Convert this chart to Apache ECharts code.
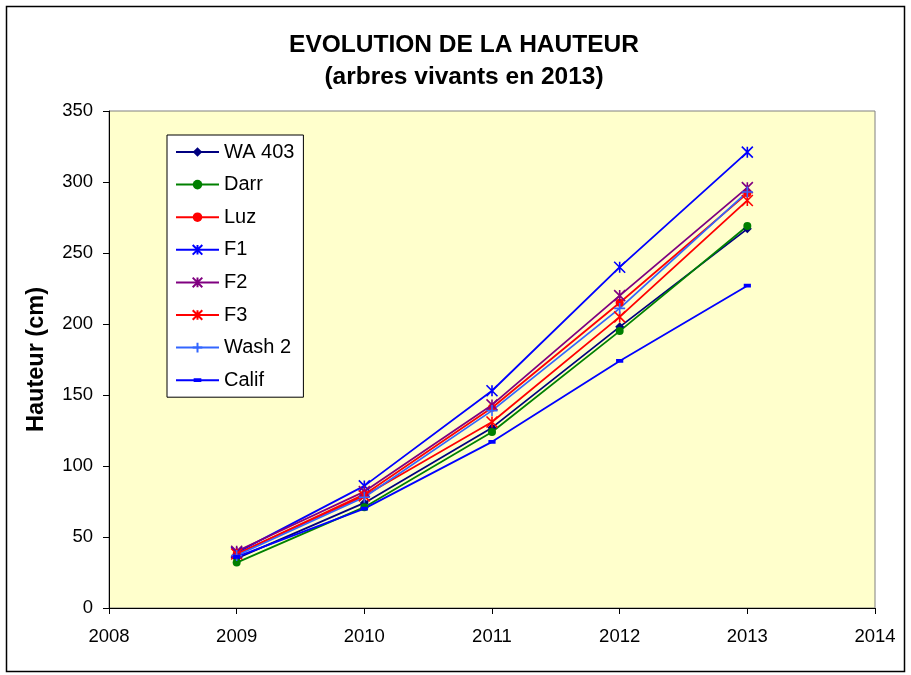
<!DOCTYPE html>
<html><head><meta charset="utf-8">
<script src="https://cdn.jsdelivr.net/npm/echarts@6/dist/echarts.min.js"></script>
<style>html,body{margin:0;padding:0;background:#fff}#c{width:911px;height:675px}</style>
</head><body><div id="c"></div>
<script>
const years = [2009, 2010, 2011, 2012, 2013];
const seriesNames = ['WA 403', 'Darr', 'Luz', 'F1', 'F2', 'F3', 'Wash 2', 'Calif'];
const wa403 = [35, 74, 127, 198, 267];
const darr  = [32, 71, 124, 195, 269];
const luz   = [38, 80, 141, 215, 292];
const f1    = [39, 86, 153, 240, 321];
const f2    = [40, 82, 143, 220, 296];
const f3    = [38, 79, 131, 205, 287];
const wash2 = [37, 78, 139, 211, 293];
const calif = [36, 70, 117, 174, 227];
const xTicks = [2008, 2009, 2010, 2011, 2012, 2013, 2014];
const yTicks = [0, 50, 100, 150, 200, 250, 300, 350];

const star = 'path://M0,0 L10,10 M10,0 L0,10 M5,0 L5,10';
const plus = 'path://M5,0 L5,10 M0,5 L10,5';
const dash = 'path://M0,0 L0,0 Z M10,10 L10,10 Z M1,3 L9,3 L9,7 L1,7 Z';
const styles = [
  {color:'#000080', symbol:'diamond', size:9, stroke:false},
  {color:'#008000', symbol:'circle', size:8, stroke:false},
  {color:'#FF0000', symbol:'circle', size:8, stroke:false},
  {color:'#0000FF', symbol:star, size:11, stroke:true},
  {color:'#800080', symbol:star, size:11, stroke:true},
  {color:'#FF0000', symbol:star, size:11, stroke:true},
  {color:'#3366FF', symbol:plus, size:11, stroke:true},
  {color:'#0000FF', symbol:dash, size:9, stroke:false}
];
const data = [wa403, darr, luz, f1, f2, f3, wash2, calif];

const series = seriesNames.map((n, i) => ({
  name: n, type: 'line',
  data: years.map((y, j) => [y, data[i][j]]),
  symbol: styles[i].symbol, symbolSize: styles[i].size,
  symbolKeepAspect: true,
  showAllSymbol: true,
  lineStyle: {color: styles[i].color, width: 1.8},
  itemStyle: {color: styles[i].stroke ? 'none' : styles[i].color,
              borderColor: styles[i].color, borderWidth: styles[i].stroke ? 1.6 : 0},
  emphasis: {disabled: true},
  animation: false
}));

const chart = echarts.init(document.getElementById('c'), null, {renderer: 'canvas'});
chart.setOption({
  backgroundColor: '#fff',
  animation: false,
  graphic: [{type:'rect', shape:{x:6.5, y:6.5, width:898, height:665}, style:{fill:'none', stroke:'#000', lineWidth:1.5}, z:-1}],
  title: {
    text: 'EVOLUTION DE LA HAUTEUR\n(arbres vivants en 2013)',
    left: 459, top: 24, textAlign: 'center',
    textStyle: {fontFamily: 'Liberation Sans, Arial', fontSize: 24.5, fontWeight: 'bold', color: '#000', lineHeight: 32}
  },
  grid: {left: 109, top: 111, width: 766, height: 497, show: true, backgroundColor: '#FFFFCC', borderColor: '#808080', borderWidth: 1},
  legend: {
    orient: 'vertical', left: 167, top: 135,
    padding: [7, 9, 7, 8], itemGap: 12.6, itemWidth: 43, itemHeight: 12,
    backgroundColor: '#fff', borderColor: '#000', borderWidth: 1,
    textStyle: {fontFamily: 'Liberation Sans, Arial', fontSize: 20, color: '#000', lineHeight: 20},
    data: seriesNames
  },
  xAxis: {
    type: 'value', min: 2008, max: 2014, interval: 1,
    axisLine: {show: true, lineStyle: {color: '#000'}},
    axisTick: {show: true, length: 6, lineStyle: {color: '#000'}},
    axisLabel: {fontFamily: 'Liberation Sans, Arial', fontSize: 18.5, color: '#000', margin: 19,
      formatter: v => xTicks.includes(v) ? String(v) : ''},
    splitLine: {show: false}
  },
  yAxis: {
    type: 'value', min: 0, max: 350, interval: 50,
    name: 'Hauteur (cm)', nameLocation: 'middle', nameGap: 60,
    nameTextStyle: {fontFamily: 'Liberation Sans, Arial', fontSize: 23.5, fontWeight: 'bold', color: '#000'},
    axisLine: {show: true, lineStyle: {color: '#000'}},
    axisTick: {show: true, length: 6, lineStyle: {color: '#000'}},
    axisLabel: {fontFamily: 'Liberation Sans, Arial', fontSize: 18.5, color: '#000', margin: 16,
      formatter: v => yTicks.includes(v) ? String(v) : ''},
    splitLine: {show: false}
  },
  series: series
});
</script></body></html>
